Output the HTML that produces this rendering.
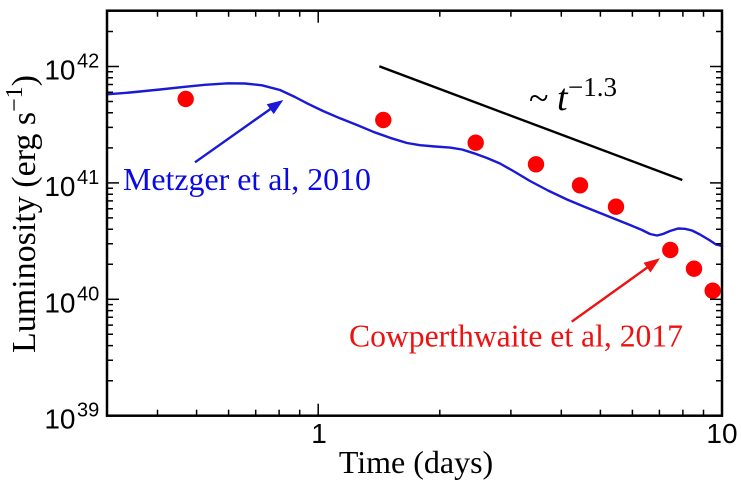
<!DOCTYPE html>
<html>
<head>
<meta charset="utf-8">
<style>
  html, body { margin: 0; padding: 0; background: #fff; }
  svg { display: block; }
  .serif { font-family: "Liberation Serif", "Times New Roman", serif; }
  .sans { font-family: "Liberation Sans", Arial, sans-serif; }
</style>
</head>
<body>
<svg width="741" height="486" viewBox="0 0 741 486" xmlns="http://www.w3.org/2000/svg">
  <rect x="0" y="0" width="741" height="486" fill="#fff"/>

  <!-- Blue model curve -->
  <polyline fill="none" stroke="#1a1ad6" stroke-width="2.4" stroke-linejoin="round" stroke-linecap="round"
    points="107,94.3 130,92.5 160,89.5 185,86.8 205,84.8 228,83.3 245,83.5 262,85.3 280,90 295,97 307,103.3 323,111 340,118.3 357,125 373,131.7 390,137.8 407,143 420,145.2 435,146.5 450,147.6 462,149.5 474,153.3 487,158 500,163.5 515,172 530,181 548,190.5 567,199.5 585,207 600,213 615,219 630,225 642,230 650,234 657,235.5 663,234 670,231 678,228.5 685,228.8 692,230.5 700,234.5 710,240.5 716,244.5 722,246"/>

  <!-- Power law line -->
  <line x1="379.3" y1="66.3" x2="682.3" y2="180" stroke="#000" stroke-width="2.4"/>

  <!-- Red data points -->
  <g fill="#ff0000">
    <circle cx="185.7" cy="99" r="8.2"/>
    <circle cx="383.3" cy="120" r="8.2"/>
    <circle cx="475.7" cy="142.7" r="8.2"/>
    <circle cx="536" cy="164.3" r="8.2"/>
    <circle cx="580" cy="185.3" r="8.2"/>
    <circle cx="616" cy="206.7" r="8.2"/>
    <circle cx="670.3" cy="250" r="8.2"/>
    <circle cx="694" cy="268.7" r="8.2"/>
    <circle cx="712.7" cy="290.7" r="8.2"/>
  </g>

  <!-- Blue arrow -->
  <line x1="195" y1="162.3" x2="271" y2="108.6" stroke="#1a1ad6" stroke-width="2.4"/>
  <polygon points="283.3,100 273.7,114.1 266.7,104.3" fill="#1a1ad6"/>

  <!-- Red arrow -->
  <line x1="571.7" y1="321.7" x2="648" y2="267" stroke="#ee1111" stroke-width="2.4"/>
  <polygon points="660,258.3 650.5,272.5 643.5,262.7" fill="#ee1111"/>

  <!-- Frame -->
  <rect x="107" y="10.7" width="615" height="405" fill="none" stroke="#000" stroke-width="2.5"/>

  <!-- Ticks -->
  <g stroke="#000" stroke-width="1.5">
    <line x1="318.2" y1="415.7" x2="318.2" y2="403.7"/>
    <line x1="318.2" y1="10.7" x2="318.2" y2="22.7"/>
    <line x1="157.5" y1="415.7" x2="157.5" y2="409.7"/>
    <line x1="196.6" y1="415.7" x2="196.6" y2="409.7"/>
    <line x1="228.6" y1="415.7" x2="228.6" y2="409.7"/>
    <line x1="255.7" y1="415.7" x2="255.7" y2="409.7"/>
    <line x1="279.1" y1="415.7" x2="279.1" y2="409.7"/>
    <line x1="299.7" y1="415.7" x2="299.7" y2="409.7"/>
    <line x1="439.8" y1="415.7" x2="439.8" y2="409.7"/>
    <line x1="510.9" y1="415.7" x2="510.9" y2="409.7"/>
    <line x1="561.3" y1="415.7" x2="561.3" y2="409.7"/>
    <line x1="600.4" y1="415.7" x2="600.4" y2="409.7"/>
    <line x1="632.4" y1="415.7" x2="632.4" y2="409.7"/>
    <line x1="659.4" y1="415.7" x2="659.4" y2="409.7"/>
    <line x1="682.9" y1="415.7" x2="682.9" y2="409.7"/>
    <line x1="703.5" y1="415.7" x2="703.5" y2="409.7"/>
    <line x1="157.5" y1="10.7" x2="157.5" y2="16.7"/>
    <line x1="196.6" y1="10.7" x2="196.6" y2="16.7"/>
    <line x1="228.6" y1="10.7" x2="228.6" y2="16.7"/>
    <line x1="255.7" y1="10.7" x2="255.7" y2="16.7"/>
    <line x1="279.1" y1="10.7" x2="279.1" y2="16.7"/>
    <line x1="299.7" y1="10.7" x2="299.7" y2="16.7"/>
    <line x1="439.8" y1="10.7" x2="439.8" y2="16.7"/>
    <line x1="510.9" y1="10.7" x2="510.9" y2="16.7"/>
    <line x1="561.3" y1="10.7" x2="561.3" y2="16.7"/>
    <line x1="600.4" y1="10.7" x2="600.4" y2="16.7"/>
    <line x1="632.4" y1="10.7" x2="632.4" y2="16.7"/>
    <line x1="659.4" y1="10.7" x2="659.4" y2="16.7"/>
    <line x1="682.9" y1="10.7" x2="682.9" y2="16.7"/>
    <line x1="703.5" y1="10.7" x2="703.5" y2="16.7"/>

    <line x1="107" y1="299.3" x2="119" y2="299.3"/>
    <line x1="107" y1="182.9" x2="119" y2="182.9"/>
    <line x1="107" y1="66.5" x2="119" y2="66.5"/>
    <line x1="722" y1="299.3" x2="710" y2="299.3"/>
    <line x1="722" y1="182.9" x2="710" y2="182.9"/>
    <line x1="722" y1="66.5" x2="710" y2="66.5"/>
  </g>
  <g stroke="#000" stroke-width="1.5">
    <path d="M107 380.7h6M107 360.2h6M107 345.6h6M107 334.3h6M107 325.1h6M107 317.3h6M107 310.6h6M107 304.6h6
             M107 264.3h6M107 243.8h6M107 229.2h6M107 217.9h6M107 208.7h6M107 200.9h6M107 194.2h6M107 188.2h6
             M107 147.9h6M107 127.4h6M107 112.8h6M107 101.5h6M107 92.3h6M107 84.5h6M107 77.8h6M107 71.8h6
             M107 31.5h6"/>
    <path d="M722 380.7h-6M722 360.2h-6M722 345.6h-6M722 334.3h-6M722 325.1h-6M722 317.3h-6M722 310.6h-6M722 304.6h-6
             M722 264.3h-6M722 243.8h-6M722 229.2h-6M722 217.9h-6M722 208.7h-6M722 200.9h-6M722 194.2h-6M722 188.2h-6
             M722 147.9h-6M722 127.4h-6M722 112.8h-6M722 101.5h-6M722 92.3h-6M722 84.5h-6M722 77.8h-6M722 71.8h-6
             M722 31.5h-6"/>
  </g>

  <!-- Y tick labels -->
  <g class="sans" fill="#000">
    <text x="75.5" y="79.5" font-size="28" text-anchor="end">10</text>
    <text x="77" y="67.5" font-size="20">42</text>
    <text x="75.5" y="195.9" font-size="28" text-anchor="end">10</text>
    <text x="77" y="183.9" font-size="20">41</text>
    <text x="75.5" y="312.3" font-size="28" text-anchor="end">10</text>
    <text x="77" y="300.3" font-size="20">40</text>
    <text x="75.5" y="428.7" font-size="28" text-anchor="end">10</text>
    <text x="77" y="416.7" font-size="20">39</text>
  </g>

  <!-- X tick labels -->
  <g class="sans" fill="#000" font-size="28" text-anchor="middle">
    <text x="319" y="443">1</text>
    <text x="722" y="443">10</text>
  </g>

  <!-- Axis titles -->
  <text class="serif" x="416" y="473" font-size="32" text-anchor="middle" fill="#000">Time (days)</text>
  <text class="serif" transform="translate(35,353) rotate(-90)" font-size="34" fill="#000">Luminosity (erg s<tspan dy="-13" font-size="24">−1</tspan><tspan dy="13">)</tspan></text>

  <!-- Annotations -->
  <text class="serif" x="123" y="190" font-size="32" fill="#0a0ae6" textLength="248" lengthAdjust="spacingAndGlyphs">Metzger et al, 2010</text>
  <text class="serif" x="349" y="346.5" font-size="32" fill="#ee1111" textLength="334" lengthAdjust="spacingAndGlyphs">Cowperthwaite et al, 2017</text>

  <text class="serif" x="529" y="110" font-size="36" fill="#000">~</text>
  <text class="serif" x="557" y="110" font-size="38" font-style="italic" fill="#000">t</text>
  <text class="serif" x="568" y="96" font-size="27" fill="#000">−1.3</text>
</svg>
</body>
</html>
